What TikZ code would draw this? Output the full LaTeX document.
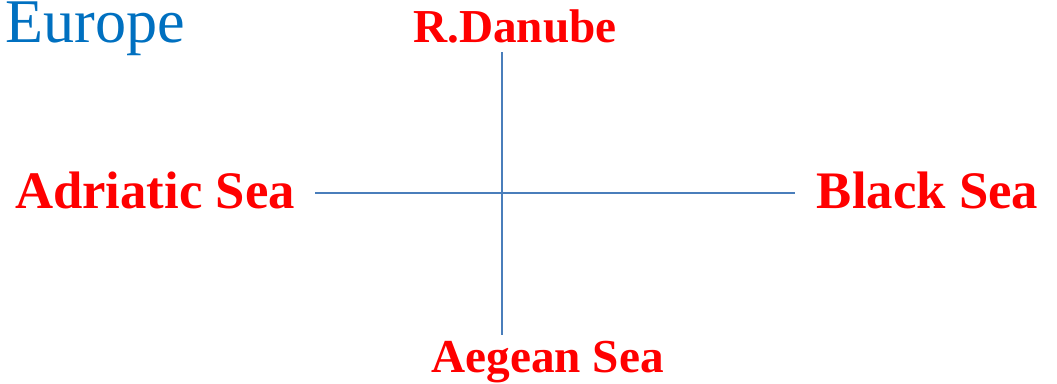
\documentclass[tikz,border=0pt]{standalone}
\usepackage{fontspec}
\setmainfont{Liberation Serif}
\usepackage{xcolor}
\usepackage{tikz}
\usetikzlibrary{positioning}

\definecolor{titleblue}{HTML}{0070C0}
\definecolor{lineblue}{HTML}{4A7EBB}

\begin{document}
\begin{tikzpicture}[
      x=0.025cm, y=-0.025cm,
      title/.style={text=titleblue, font=\fontsize{44.2}{50}\selectfont, inner sep=0pt, anchor=base},
      sealabel/.style={text=red, font=\bfseries\fontsize{37.5}{42}\selectfont, inner sep=0pt, anchor=base},
      riverlabel/.style={text=red, font=\bfseries\fontsize{33.6}{38}\selectfont, inner sep=0pt, anchor=base},
      axis/.style={draw=lineblue, line width=1.1pt}
    ]
    \useasboundingbox (0,0) rectangle (1057,383);

    \node[title] (europe) at (95,42) {Europe};
    \node[riverlabel] (danube) at (515,42) {R.Danube};
    \node[sealabel] (adriatic) at (155,208) {Adriatic Sea};
    \node[sealabel] (black) at (927.5,208) {Black Sea};
    \node[riverlabel] (aegean) at (547.5,372) {Aegean Sea};

    % ends of the cross
    \coordinate (north) at (502,52);
    \coordinate (south) at (502,335);
    \coordinate (west) at (315,193);
    \coordinate (east) at (795,193);

    \draw[axis] (north) -- (south);
    \draw[axis] (west) -- (east);
  \end{tikzpicture}
\end{document}
